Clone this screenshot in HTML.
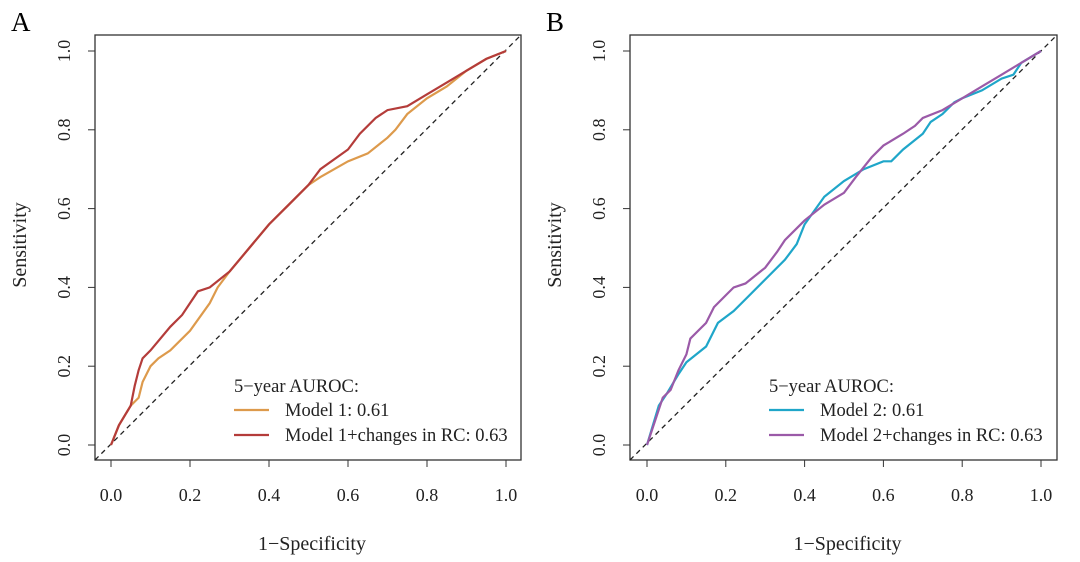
<!DOCTYPE html>
<html><head><meta charset="utf-8"><style>
body{margin:0;background:#fff;}
svg{display:block;font-family:"Liberation Serif",serif;}
</style></head><body>
<svg id="fig" width="1080" height="562" viewBox="0 0 1080 562"></svg>
<script>
const ticks=[0,0.2,0.4,0.6,0.8,1.0];
const tickLabels=["0.0","0.2","0.4","0.6","0.8","1.0"];
const a1x=[0,0.02,0.05,0.07,0.08,0.1,0.12,0.15,0.2,0.25,0.27,0.3,0.35,0.4,0.45,0.5,0.53,0.6,0.65,0.7,0.72,0.75,0.8,0.85,0.9,0.95,1];
const a1y=[0,0.05,0.1,0.12,0.16,0.2,0.22,0.24,0.29,0.36,0.4,0.44,0.5,0.56,0.61,0.66,0.68,0.72,0.74,0.78,0.8,0.84,0.88,0.91,0.95,0.98,1];
const a2x=[0,0.02,0.05,0.06,0.07,0.08,0.1,0.15,0.18,0.2,0.22,0.25,0.3,0.35,0.4,0.45,0.5,0.53,0.6,0.63,0.67,0.7,0.75,0.8,0.85,0.9,0.95,1];
const a2y=[0,0.05,0.1,0.15,0.19,0.22,0.24,0.3,0.33,0.36,0.39,0.4,0.44,0.5,0.56,0.61,0.66,0.7,0.75,0.79,0.83,0.85,0.86,0.89,0.92,0.95,0.98,1];
const b1x=[0,0.03,0.05,0.08,0.1,0.15,0.18,0.22,0.25,0.3,0.35,0.38,0.4,0.45,0.5,0.55,0.6,0.62,0.65,0.7,0.72,0.75,0.78,0.8,0.85,0.9,0.93,0.95,1];
const b1y=[0,0.1,0.13,0.18,0.21,0.25,0.31,0.34,0.37,0.42,0.47,0.51,0.56,0.63,0.67,0.7,0.72,0.72,0.75,0.79,0.82,0.84,0.87,0.88,0.9,0.93,0.94,0.97,1];
const b2x=[0,0.03,0.04,0.06,0.08,0.1,0.11,0.15,0.17,0.2,0.22,0.25,0.3,0.33,0.35,0.4,0.45,0.5,0.53,0.57,0.6,0.65,0.68,0.7,0.75,0.8,0.85,0.9,0.95,1];
const b2y=[0,0.09,0.12,0.14,0.19,0.23,0.27,0.31,0.35,0.38,0.4,0.41,0.45,0.49,0.52,0.57,0.61,0.64,0.68,0.73,0.76,0.79,0.81,0.83,0.85,0.88,0.91,0.94,0.97,1];

const NS="http://www.w3.org/2000/svg";
const svg=document.getElementById('fig');
function mk(tag,attrs,parent){const e=document.createElementNS(NS,tag);for(const k in attrs)e.setAttribute(k,attrs[k]);(parent||svg).appendChild(e);return e;}

function panel(letter,x0,x1,box,s1x,s1y,s2x,s2y,c1,c2,l1,l2,legX){
  const y0=445,y1=51;
  const sx=v=>x0+v*(x1-x0), sy=v=>y0+v*(y1-y0);
  const g=mk('g',{});
  
  
  const t=mk('text',{x:box[0]-84,y:31,'font-size':27},g);t.textContent=letter;
  
  const r=mk('rect',{x:box[0],y:35,width:box[1]-box[0],height:425,fill:'none',stroke:'#333','stroke-width':1.3},g);
  
  ticks.forEach((v,i)=>{
    mk('line',{x1:sx(v),x2:sx(v),y1:460,y2:467,stroke:'#333'},g);
    const tx=mk('text',{x:sx(v),y:501,'font-size':18,'text-anchor':'middle',fill:'#222'},g);tx.textContent=tickLabels[i];
    
    mk('line',{x1:box[0]-7,x2:box[0],y1:sy(v),y2:sy(v),stroke:'#333'},g);
    const ty=mk('text',{x:0,y:0,'font-size':18,'text-anchor':'middle',fill:'#222',transform:`translate(${box[0]-25},${sy(v)}) rotate(-90)`},g);ty.textContent=tickLabels[i];
    
  });
  const xl=mk('text',{x:(box[0]+box[1])/2+4,y:550,'font-size':20,'text-anchor':'middle',fill:'#222'},g);xl.textContent='1\u2212Specificity';
  
  const yl=mk('text',{x:0,y:0,'font-size':20,'text-anchor':'middle',fill:'#222',transform:`translate(${box[0]-69},245) rotate(-90)`},g);yl.textContent='Sensitivity';
  
  const d=mk('line',{x1:box[0],y1:460,x2:box[1],y2:35,stroke:'#222','stroke-width':1.3,'stroke-dasharray':'5,4'},g);
  
  [[s1x,s1y,c1,'series-1'],[s2x,s2y,c2,'series-2']].forEach(([xs,ys,c,n])=>{
    const p=mk('polyline',{points:xs.map((v,i)=>sx(v)+','+sy(ys[i])).join(' '),fill:'none',stroke:c,'stroke-width':2.2},g);
    
  });
  const h=mk('text',{x:legX,y:392,'font-size':18.5,fill:'#222'},g);h.textContent='5\u2212year AUROC:';
  
  [[l1,c1,416],[l2,c2,441]].forEach(([lab,c,y])=>{
    mk('line',{x1:legX,x2:legX+35,y1:y-6,y2:y-6,stroke:c,'stroke-width':2.2},g);
    const e=mk('text',{x:legX+51,y:y,'font-size':18.5,fill:'#222'},g);e.textContent=lab;
    
  });
}
panel('A',111,506,[95,521],a1x,a1y,a2x,a2y,'#dd9a4c','#b43c3a','Model 1: 0.61','Model 1+changes in RC: 0.63',234);
panel('B',647,1041,[630,1057],b1x,b1y,b2x,b2y,'#1fa6c9','#9b5aa8','Model 2: 0.61','Model 2+changes in RC: 0.63',769);
</script>
</body></html>
